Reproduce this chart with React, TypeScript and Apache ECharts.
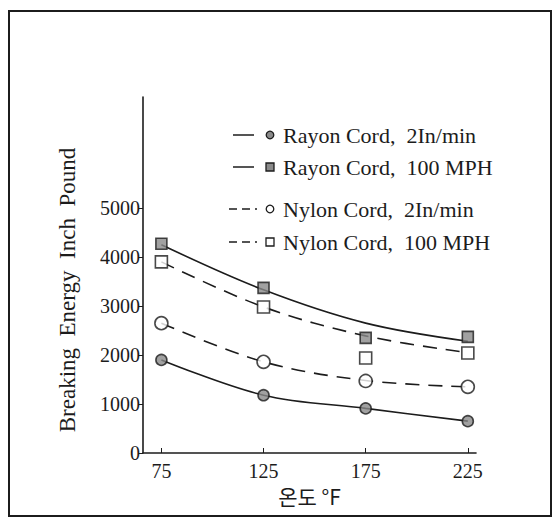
import React, { useEffect, useRef } from "react";
import * as echarts from "echarts";

const xTicks = [75, 125, 175, 225];
const yTickLabels = [0, 1000, 2000, 3000, 4000, 5000];

const seriesNames = [
  "Rayon Cord,  2In/min",
  "Rayon Cord,  100 MPH",
  "Nylon Cord,  2In/min",
  "Nylon Cord,  100 MPH",
];

// measured points (markers)
const rayon2Pts = [1900, 1180, 910, 650];
const rayon100Pts = [4270, 3370, 2350, 2370];
const nylon2Pts = [2650, 1860, 1470, 1350];
const nylon100Pts = [3900, 2980, 1940, 2040];

// drawn (fitted) curves
const rayon2Curve = [1900, 1180, 910, 650];
const rayon100Curve = [4250, 3330, 2650, 2280];
const nylon2Curve = [2650, 1860, 1480, 1350];
const nylon100Curve = [3900, 2980, 2390, 2050];

const INK = "#1c1c1c";
const FILL = "#8a8a8a";
const SERIF = "'Liberation Serif', 'DejaVu Serif', serif";

const pair = (vals: number[]) => xTicks.map((x, i) => [x, vals[i]]);

export default function App() {
  const ref = useRef<HTMLDivElement>(null);
  useEffect(() => {
    if (!ref.current) return;
    const chart = echarts.init(ref.current, null, { renderer: "svg" });

    const curveSeries = (name: string, vals: number[], dashed: boolean) => ({
      name,
      type: "line",
      data: pair(vals),
      smooth: 0.35,
      showSymbol: false,
      symbol: "none",
      lineStyle: { color: INK, width: 1.6, type: dashed ? [14, 9] : "solid" },
      z: 2,
    });
    const pointSeries = (name: string, vals: number[], symbol: string, fill: string, size: number) => ({
      name,
      type: "scatter",
      data: pair(vals),
      symbol,
      symbolSize: size,
      itemStyle: { color: fill, borderColor: INK, borderWidth: 1.6 },
      z: 3,
    });

    const legendRows = [
      { y: 135, dashed: false, marker: "circle", fill: FILL },
      { y: 167, dashed: false, marker: "rect", fill: FILL },
      { y: 209, dashed: true, marker: "circle", fill: "#fff" },
      { y: 242, dashed: true, marker: "rect", fill: "#fff" },
    ];
    const legendGraphics: any[] = [];
    legendRows.forEach((r, i) => {
      legendGraphics.push({
        type: "line",
        shape: { x1: r.dashed ? 229 : 233, y1: r.y, x2: r.dashed ? 257 : 254, y2: r.y },
        style: { stroke: INK, lineWidth: 1.5, lineDash: r.dashed ? [8, 5] : null },
      });
      if (r.marker === "circle") {
        legendGraphics.push({
          type: "circle",
          shape: { cx: 270, cy: r.y, r: 3.8 },
          style: { fill: r.fill, stroke: INK, lineWidth: 1.3 },
        });
      } else {
        legendGraphics.push({
          type: "rect",
          shape: { x: 266, y: r.y - 4, width: 8, height: 8 },
          style: { fill: r.fill, stroke: INK, lineWidth: 1.3 },
        });
      }
      legendGraphics.push({
        type: "text",
        x: 283,
        y: r.y,
        style: {
          text: seriesNames[i],
          font: `22px ${SERIF}`,
          fill: INK,
          textAlign: "left",
          textVerticalAlign: "middle",
        },
      });
    });

    chart.setOption({
      animation: false,
      backgroundColor: "#fff",
      grid: { left: 143, right: 79, top: 97, bottom: 64, containLabel: false },
      xAxis: {
        type: "value",
        min: 66,
        max: 229,
        name: "온도 °F",
        nameLocation: "middle",
        nameGap: 29,
        nameTextStyle: {
          fontFamily: "'Noto Sans CJK KR', sans-serif",
          fontSize: 21,
          color: INK,
        },
        axisLine: { show: true, lineStyle: { color: INK, width: 1.6 } },
        axisTick: { show: true, inside: true, length: 5, customValues: xTicks, lineStyle: { color: INK } },
        axisLabel: {
          customValues: xTicks,
          margin: 8,
          fontFamily: SERIF,
          fontSize: 20,
          color: INK,
          formatter: (v: number) => String(v),
        },
        splitLine: { show: false },
      },
      yAxis: {
        type: "value",
        min: 0,
        max: 7265,
        axisLine: { show: true, lineStyle: { color: INK, width: 1.6 } },
        axisTick: { show: true, length: 5, customValues: yTickLabels, lineStyle: { color: INK } },
        axisLabel: {
          customValues: yTickLabels,
          margin: 3,
          fontFamily: SERIF,
          fontSize: 20,
          color: INK,
          formatter: (v: number) => String(v),
        },
        splitLine: { show: false },
      },
      graphic: [
        {
          type: "rect",
          shape: { x: 9, y: 11, width: 542, height: 505 },
          style: { fill: "none", stroke: INK, lineWidth: 2 },
          z: 10,
        },
        {
          type: "text",
          x: 67,
          y: 290,
          rotation: Math.PI / 2,
          style: {
            text: "Breaking  Energy  Inch  Pound",
            font: `23px ${SERIF}`,
            fill: INK,
            textAlign: "center",
            textVerticalAlign: "middle",
          },
        },
        ...legendGraphics,
      ],
      series: [
        curveSeries(seriesNames[0], rayon2Curve, false),
        curveSeries(seriesNames[1], rayon100Curve, false),
        curveSeries(seriesNames[2], nylon2Curve, true),
        curveSeries(seriesNames[3], nylon100Curve, true),
        pointSeries(seriesNames[0], rayon2Pts, "circle", FILL, 11),
        pointSeries(seriesNames[1], rayon100Pts, "rect", FILL, 11),
        pointSeries(seriesNames[2], nylon2Pts, "circle", "#fff", 13),
        pointSeries(seriesNames[3], nylon100Pts, "rect", "#fff", 12),
      ],
    });
    return () => chart.dispose();
  }, []);

  return (
    <div
      ref={ref}
      style={{ position: "fixed", left: 0, top: 0, width: 555, height: 517, background: "#fff" }}
    />
  );
}
